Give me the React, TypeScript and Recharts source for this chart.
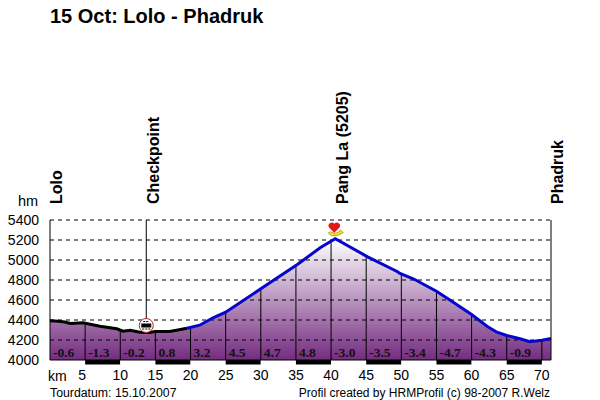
import React from 'react';
import {
  ComposedChart, Area, Line, XAxis, YAxis, ReferenceLine, ReferenceArea, ReferenceDot,
} from 'recharts';

// distance (km) and altitude (m)
const km = [0, 1.2, 2.1, 2.9, 4.7, 7.1, 9.5, 10.4, 11.4, 12.8, 14.2, 15, 17, 18, 19.5, 21.3, 23.2, 25, 30, 35.2, 38.5, 40.6, 45.2, 49.4, 49.8, 51.7, 55, 56.8, 60, 62.2, 63.6, 65, 66.9, 68.3, 70, 71.3];
const altitude = [4392, 4388, 4380, 4365, 4372, 4338, 4312, 4288, 4298, 4278, 4275, 4285, 4285, 4298, 4318, 4348, 4422, 4478, 4712, 4955, 5125, 5212, 5032, 4885, 4865, 4812, 4688, 4605, 4455, 4338, 4278, 4245, 4212, 4182, 4198, 4215];
const flatEndKm = 19.5;

const stepKm = [5, 10, 15, 20, 25, 30, 35, 40, 45, 50, 55, 60, 65, 70];
const stepAltitude = [4372, 4300, 4285, 4322, 4478, 4712, 4955, 5178, 5032, 4868, 4688, 4455, 4245, 4198];
const gradeKm = [0, 5, 10, 15, 20, 25, 30, 35, 40, 45, 50, 55, 60, 65];
const gradeLabels = ['-0.6', '-1.3', '-0.2', '0.8', '3.2', '4.5', '4.7', '4.8', '-3.0', '-3.5', '-3.4', '-4.7', '-4.3', '-0.9'];
const altTicks = [4000, 4200, 4400, 4600, 4800, 5000, 5200, 5400];
const places = [
  { name: 'Lolo', km: 0.9 },
  { name: 'Checkpoint', km: 14.6 },
  { name: 'Pang La (5205)', km: 41.6 },
  { name: 'Phadruk', km: 72.2 },
];
const checkpointKm = 13.7;
const passKm = 40.6;

const data = km.map((k, i) => ({
  km: k,
  alt: altitude[i],
  flat: k <= flatEndKm ? altitude[i] : null,
  climb: k >= flatEndKm ? altitude[i] : null,
}));

const sans = '"Liberation Sans", Arial, sans-serif';

const Note = ({ style, children }: any) => (
  <div style={{ position: 'absolute', fontFamily: sans, color: '#000', whiteSpace: 'nowrap', lineHeight: 1, ...style }}>
    {children}
  </div>
);

const GradeMark = ({ cx, cy, label }: any) => (
  <text x={cx + 3} y={cy - 3} fontFamily='"Liberation Serif", serif' fontWeight="bold" fontSize={13.5} fill="#111">{label}</text>
);

const PlaceMark = ({ cx, cy, label }: any) => (
  <text transform={`translate(${cx + 6},${cy - 16}) rotate(-90)`} fontFamily={sans} fontWeight="bold" fontSize={16} fill="#000">{label}</text>
);

const CheckpointMark = ({ cx, cy }: any) => (
  <g>
    <circle cx={cx} cy={cy - 7} r={7} fill="#fff" stroke="#b02020" strokeWidth={1} />
    <rect x={cx - 5} y={cy - 9} width={10} height={4} fill="#000" />
    <line x1={cx - 4} x2={cx + 4} y1={cy - 3.5} y2={cy - 3.5} stroke="#000" strokeDasharray="2 1" />
    <line x1={cx - 3} x2={cx + 3} y1={cy - 11} y2={cy - 11} stroke="#000" strokeDasharray="2 1" />
  </g>
);

const PassMark = ({ cx, cy }: any) => (
  <g>
    <path d={`M${cx - 7} ${cy - 6} l2 -1 q5 3 9 0 l1 -2 l3 3 q-6 4 -11 3 q-3 -1 -4 -3 z`} fill="#f5e020" stroke="#8a7a10" strokeWidth={0.6} />
    <path d={`M${cx - 1} ${cy - 6} l-5 -5 a3 3 0 0 1 5 -4 a3 3 0 0 1 5 4 z`} fill="#e01818" />
  </g>
);

const KmTick = ({ x, y, payload }: any) => (
  <text x={payload.value === 5 ? x - 3 : x} y={y} dy={8} textAnchor="middle" fontFamily={sans} fontSize={14} fill="#000">{payload.value}</text>
);

export default function App() {
  return (
    <div style={{ position: 'absolute', left: 0, top: 0, width: 600, height: 400, background: '#fff' }}>
      <Note style={{ left: 50, top: 6, fontSize: 20, fontWeight: 'bold' }}>15 Oct: Lolo - Phadruk</Note>
      <Note style={{ left: 18, top: 194, fontSize: 14.5 }}>hm</Note>
      <Note style={{ left: 48, top: 369, fontSize: 14 }}>km</Note>
      <Note style={{ left: 50, top: 387, fontSize: 12.3 }}>Tourdatum: 15.10.2007</Note>
      <Note style={{ right: 50, top: 387, fontSize: 12 }}>Profil created by HRMProfil (c) 98-2007 R.Welz</Note>
      <ComposedChart width={600} height={400} data={data} margin={{ top: 220, right: 0, bottom: 0, left: 0 }}>
        <defs>
          <linearGradient id="profileFill" x1="0" y1="0" x2="0" y2="1">
            <stop offset="0%" stopColor="#ffffff" />
            <stop offset="100%" stopColor="#742c80" />
          </linearGradient>
        </defs>
        <XAxis
          dataKey="km"
          type="number"
          domain={[0, 71.3]}
          ticks={stepKm}
          interval={0}
          height={40}
          axisLine={false}
          tickLine={false}
          tickMargin={6}
          tick={<KmTick />}
        />
        <YAxis
          yAxisId="left"
          width={50}
          domain={[4000, 5400]}
          ticks={altTicks}
          interval={0}
          tickLine={false}
          axisLine={{ stroke: '#000' }}
          tickMargin={5}
          tick={{ fontFamily: sans, fontSize: 14, fill: '#000' }}
        />
        <YAxis
          yAxisId="right"
          orientation="right"
          width={49}
          domain={[4000, 5400]}
          ticks={altTicks}
          interval={0}
          tickLine={false}
          axisLine={{ stroke: '#000' }}
          tickMargin={5}
          tick={{ fontFamily: sans, fontSize: 14, fill: '#000' }}
        />
        <Area yAxisId="left" dataKey="alt" type="linear" stroke="none" fill="url(#profileFill)" fillOpacity={1} isAnimationActive={false} />
        {altTicks.slice(1).map((t) => (
          <ReferenceLine key={t} yAxisId="left" y={t} stroke="#000" strokeDasharray="4 4" />
        ))}
        {stepKm.map((k, i) => (
          <ReferenceLine
            key={k}
            yAxisId="left"
            segment={[{ x: k, y: 4000 }, { x: k, y: stepAltitude[i] }]}
            stroke="#000"
          />
        ))}
        <ReferenceLine yAxisId="left" segment={[{ x: checkpointKm, y: 4300 }, { x: checkpointKm, y: 5400 }]} stroke="#000" />
        {stepKm.map((k, i) => (
          <ReferenceArea
            key={k}
            yAxisId="left"
            x1={k - 5}
            x2={k}
            y1={3955}
            y2={4000}
            ifOverflow="visible"
            fill={i % 2 === 0 ? '#fff' : '#000'}
            fillOpacity={1}
            stroke="none"
          />
        ))}
        <ReferenceLine yAxisId="left" y={4000} stroke="#000" />
        <Line yAxisId="left" dataKey="flat" stroke="#000" strokeWidth={3} dot={false} connectNulls={false} isAnimationActive={false} />
        <Line yAxisId="left" dataKey="climb" stroke="#0505cc" strokeWidth={3} dot={false} connectNulls={false} isAnimationActive={false} />
        {gradeKm.map((k, i) => (
          <ReferenceDot key={k} yAxisId="left" x={k} y={4000} r={0} shape={<GradeMark label={gradeLabels[i]} />} />
        ))}
        {places.map((p) => (
          <ReferenceDot key={p.name} yAxisId="left" x={p.km} y={5400} r={0} ifOverflow="visible" shape={<PlaceMark label={p.name} />} />
        ))}
        <ReferenceDot yAxisId="left" x={checkpointKm} y={4275} r={0} shape={<CheckpointMark />} />
        <ReferenceDot yAxisId="left" x={passKm} y={5212} r={0} shape={<PassMark />} />
      </ComposedChart>
    </div>
  );
}
